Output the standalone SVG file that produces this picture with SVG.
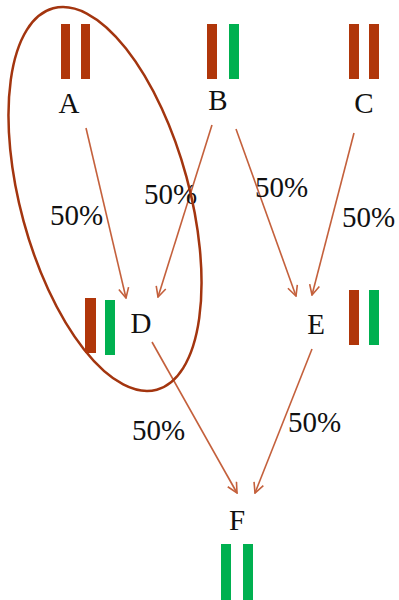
<svg xmlns="http://www.w3.org/2000/svg" width="399" height="600" viewBox="0 0 399 600">
<style>
.lbl{font-family:"Liberation Serif","Times New Roman",serif;font-size:29px;fill:#111;text-anchor:middle}
.pct{font-family:"Liberation Serif","Times New Roman",serif;font-size:29px;fill:#111}
.r{fill:#b0360a}
.g{fill:#00b050}
.edge{stroke:#c4603c;stroke-width:1.6;fill:none;marker-end:url(#ah)}
</style>
<defs>
<marker id="ah" viewBox="0 0 12 12" refX="11" refY="6" markerWidth="12" markerHeight="12" markerUnits="userSpaceOnUse" orient="auto">
<path d="M1,1 L11,6 L1,11" fill="none" stroke="#c4603c" stroke-width="1.6"/>
</marker>
</defs>
<rect width="399" height="600" fill="#fff"/>
<g id="connectors">
<line class="edge" x1="86" y1="128" x2="126" y2="298"/>
<line class="edge" x1="212" y1="125" x2="158" y2="297"/>
<line class="edge" x1="236" y1="129" x2="296" y2="296"/>
<line class="edge" x1="354" y1="133" x2="312" y2="295"/>
<line class="edge" x1="152" y1="342" x2="237" y2="493"/>
<line class="edge" x1="312" y1="349" x2="255" y2="493"/>
<text class="pct" x="50" y="225">50%</text>
<text class="pct" x="144" y="204">50%</text>
<text class="pct" x="255" y="197">50%</text>
<text class="pct" x="342" y="227">50%</text>
<text class="pct" x="132" y="440">50%</text>
<text class="pct" x="288" y="432">50%</text>
</g>
<g id="group-ellipse">
<ellipse cx="105" cy="199" rx="84.4" ry="197.6" transform="rotate(-15.2 105 199)" fill="none" stroke="#a3350f" stroke-width="2.5"/>
</g>
<g id="node-A">
<rect class="r" x="61" y="24" width="9" height="55"/>
<rect class="r" x="81" y="24" width="9" height="55"/>
<text class="lbl" x="69" y="113">A</text>
</g>
<g id="node-B">
<rect class="r" x="207" y="24" width="10" height="55"/>
<rect class="g" x="229" y="24" width="10" height="55"/>
<text class="lbl" x="218" y="110">B</text>
</g>
<g id="node-C">
<rect class="r" x="349" y="24" width="10" height="55"/>
<rect class="r" x="369" y="24" width="10" height="55"/>
<text class="lbl" x="364" y="113">C</text>
</g>
<g id="node-D">
<rect class="r" x="85" y="298" width="11" height="55"/>
<rect class="g" x="105" y="300" width="10" height="55"/>
<text class="lbl" x="141" y="333">D</text>
</g>
<g id="node-E">
<rect class="r" x="349" y="290" width="10" height="55"/>
<rect class="g" x="369" y="290" width="10" height="55"/>
<text class="lbl" x="316" y="334">E</text>
</g>
<g id="node-F">
<rect class="g" x="221" y="544" width="10" height="56"/>
<rect class="g" x="243" y="544" width="10" height="56"/>
<text class="lbl" x="237" y="530">F</text>
</g>
</svg>
